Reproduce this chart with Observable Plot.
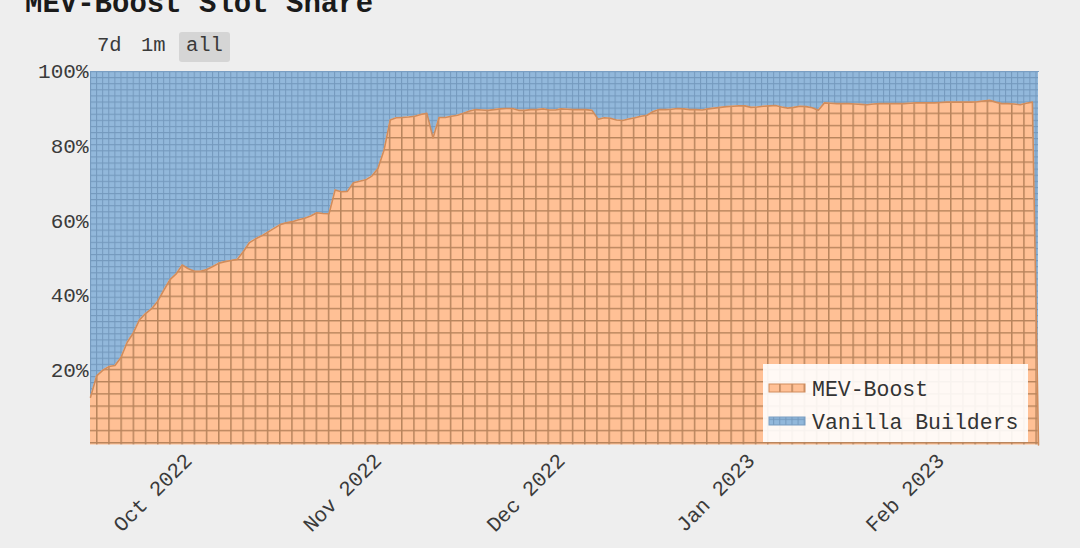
<!DOCTYPE html>
<html>
<head>
<meta charset="utf-8">
<script src="https://cdn.jsdelivr.net/npm/d3@7"></script>
<script src="https://cdn.jsdelivr.net/npm/@observablehq/plot@0.6"></script>
<style>
  html, body { margin: 0; padding: 0; background: #eeeeee; }
  body { width: 1080px; height: 548px; overflow: hidden; position: relative;
         font-family: "Liberation Mono", "Courier New", monospace; color: #333; }
  #title { position: absolute; left: 25px; top: -10px; font-size: 29px; line-height: 29px;
           font-weight: bold; color: #1a1a1a; white-space: nowrap; }
  .btn { position: absolute; top: 32px; height: 30px; line-height: 28px; font-size: 20.5px;
         color: #3a3a3a; white-space: nowrap; }
  .btn.active { background: #d5d5d5; border-radius: 3px; padding: 0 7px; }
  #chart { position: absolute; left: 0; top: 0; }
</style>
</head>
<body>
<div id="title">MEV-Boost Slot Share</div>
<div id="buttons"></div>
<div id="chart"></div>
<script>
// ---- data ----
const startDate = "2022-09-15";           // first daily sample
const seriesNames = ["MEV-Boost", "Vanilla Builders"];
const buttonLabels = ["7d", "1m", "all"];
const monthTicks = ["2022-10-01", "2022-11-01", "2022-12-01", "2023-01-01", "2023-02-01"];
const yTicks = [20, 40, 60, 80, 100];
// MEV-Boost share of slots (%), one value per day from 2022-09-15 to 2023-02-17
const mevBoostSep = [12.8, 18.5, 20, 21, 21.3, 23.5, 27.5, 30, 33.5, 35.2, 36.5, 38.5, 41.5, 44.3, 45.8, 48.2];
const mevBoostOct = [47.2, 46.5, 46.5, 47, 47.8, 48.7, 49.1, 49.4, 49.7, 51.8, 54.2, 55.2, 56, 57, 58, 59,
  59.5, 59.8, 60.3, 60.7, 61.3, 62.2, 62, 61.9, 68.3, 67.8, 67.9, 70.2, 70.6, 71, 72];
const mevBoostNov = [74, 79, 87, 87.6, 87.7, 87.8, 88, 88.5, 88.8, 82.2, 87.7, 87.7, 88, 88.3, 88.8, 89.4,
  89.8, 89.7, 89.6, 89.8, 90, 90.1, 90.1, 89.6, 89.6, 89.8, 89.8, 90, 89.7, 89.7];
const mevBoostDec = [90, 89.9, 89.8, 89.8, 89.8, 89.6, 87.2, 87.6, 87.5, 87, 86.9, 87.3, 87.6, 88, 88.3,
  89.3, 89.8, 89.8, 89.9, 90.1, 90, 89.8, 89.8, 89.7, 90, 90.2, 90.4, 90.6, 90.7, 90.8, 90.8];
const mevBoostJan = [90.4, 90.5, 90.7, 90.8, 90.9, 90.5, 90.2, 90.4, 90.7, 90.6, 90.3, 89.6, 91.6, 91.5,
  91.4, 91.4, 91.4, 91.3, 91.2, 91.1, 91.3, 91.4, 91.4, 91.4, 91.4, 91.4, 91.5, 91.6, 91.6, 91.6, 91.6];
const mevBoostFeb = [91.7, 91.8, 91.8, 91.8, 91.8, 91.8, 91.9, 92.1, 92.3, 91.8, 91.4, 91.4, 91.3, 91.1,
  91.5, 91.8, 0];

const mevBoost = [...mevBoostSep, ...mevBoostOct, ...mevBoostNov, ...mevBoostDec, ...mevBoostJan, ...mevBoostFeb];
const t0 = new Date(startDate + "T00:00:00Z");
const rows = mevBoost.map((v, i) => ({ date: d3.utcDay.offset(t0, i), mev: v, total: 100 }));
const tickDates = monthTicks.map(s => new Date(s + "T00:00:00Z"));

// ---- buttons ----
const btnLeft = [97, 141, 179];
const bdiv = document.getElementById("buttons");
buttonLabels.forEach((b, i) => {
  const s = document.createElement("span");
  s.className = "btn" + (b === "all" ? " active" : "");
  s.style.left = btnLeft[i] + "px";
  s.textContent = b;
  bdiv.appendChild(s);
});

// ---- chart ----
const W = 1080, H = 548;
const chart = Plot.plot({
  width: W, height: H,
  marginTop: 71, marginLeft: 90, marginRight: 42, marginBottom: 103.5,
  style: { background: "transparent", fontFamily: "'Liberation Mono', 'Courier New', monospace",
           fontSize: "21px", color: "#3a3a3a", overflow: "visible" },
  x: { type: "utc", domain: d3.extent(rows, d => d.date) },
  y: { domain: [0, 100] },
  marks: [
    Plot.areaY(rows, { x: "date", y1: "mev", y2: "total", fill: "url(#pBlue)", curve: "linear" }),
    Plot.areaY(rows, { x: "date", y1: 0, y2: "mev", fill: "url(#pOrange)", curve: "linear" }),
    Plot.lineY(rows, { x: "date", y: "total", stroke: "#7a9ec2", strokeWidth: 1.2 }),
    Plot.lineY(rows, { x: "date", y: "mev", stroke: "#d08c5c", strokeWidth: 1.6 }),
    Plot.axisY({ ticks: yTicks, tickFormat: d => d + "%", tickSize: 0, tickPadding: 2, label: null }),
    Plot.axisX({ ticks: tickDates, tickFormat: d3.utcFormat("%b %Y"), tickRotate: -45,
                 tickSize: 0, tickPadding: 12, label: null })
  ]
});
document.getElementById("chart").appendChild(chart);

// patterns (grid hatching like the reference)
const svg = d3.select(chart);
const defs = svg.insert("defs", ":first-child");
const po = defs.append("pattern").attr("id", "pOrange").attr("patternUnits", "userSpaceOnUse")
  .attr("x", 96).attr("y", 381).attr("width", 12.2).attr("height", 12.2);
po.append("rect").attr("width", 12.2).attr("height", 12.2).attr("fill", "#ffc095");
po.append("path").attr("d", "M0,0.75H12.2M0.75,0V12.2").attr("stroke", "#b8845c")
  .attr("stroke-width", 1.5).attr("fill", "none");
const pb = defs.append("pattern").attr("id", "pBlue").attr("patternUnits", "userSpaceOnUse")
  .attr("x", 90).attr("y", 71).attr("width", 6.1).attr("height", 6.1);
pb.append("rect").attr("width", 6.1).attr("height", 6.1).attr("fill", "#92b8db");
pb.append("path").attr("d", "M0,0.5H6.1M0.5,0V6.1").attr("stroke", "#7499bd")
  .attr("stroke-width", 1).attr("fill", "none");

// legend inside the plot (bottom-right)
const lg = svg.append("g").attr("class", "legend").attr("text-anchor", "start");
lg.append("rect").attr("x", 763).attr("y", 364).attr("width", 265).attr("height", 78)
  .attr("fill", "#ffffff").attr("fill-opacity", 0.9);
const fills = ["url(#pOrange)", "url(#pBlue)"];
const strokes = ["#d08c5c", "#7a9ec2"];
seriesNames.forEach((name, i) => {
  const cy = 388 + i * 33;
  lg.append("rect").attr("x", 769).attr("y", cy - 4).attr("width", 36).attr("height", 8)
    .attr("fill", fills[i]).attr("stroke", strokes[i]).attr("stroke-width", 1);
  lg.append("text").attr("x", 812).attr("y", cy).attr("dy", "0.35em").attr("text-anchor", "start")
    .attr("font-size", 21.5).attr("fill", "#333").text(name);
});
</script>
</body>
</html>
